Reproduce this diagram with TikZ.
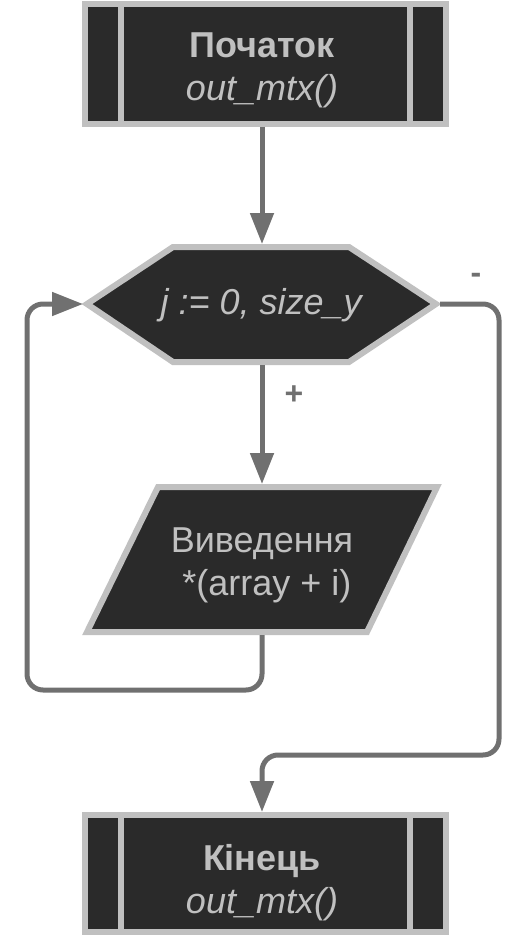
\documentclass[tikz,border=0pt]{standalone}
\usepackage{fontspec}
\setmainfont{Liberation Sans}
\usetikzlibrary{arrows.meta}
\definecolor{fillc}{HTML}{2A2A2A}
\definecolor{bordc}{HTML}{C0C0C0}
\definecolor{linec}{HTML}{707070}
\begin{document}
\begin{tikzpicture}[x=1pt,y=-1pt,
  shapebox/.style={draw=bordc,fill=fillc,line width=6pt},
  txt/.style={text=bordc,font=\fontsize{36}{42}\selectfont,align=center,inner sep=0pt},
  conn/.style={draw=linec,line width=5pt,rounded corners=16pt},
  arr/.style={-{Triangle[length=31pt,width=23pt]}},
  lbl/.style={text=linec,font=\bfseries\fontsize{32}{36}\selectfont,inner sep=0pt}]
\useasboundingbox (0,0) rectangle (531,936);
% start terminal
\path[shapebox] (85,4.5) rectangle (446,124);
\draw[bordc,line width=6pt] (121,4.5) -- (121,124) (410,4.5) -- (410,124);
\node[txt] (start) at (262,70) {\textbf{Початок}\\[1pt]\textit{out\_mtx()}};
\coordinate (startS) at (262,127);
% hexagon
\path[shapebox] (87,304) -- (173,247) -- (349,247) -- (436,304) -- (349,362) -- (173,362) -- cycle;
\node[txt] (loop) at (262,305) {\textit{j := 0, size\_y}};
\coordinate (loopN) at (262,244);
\coordinate (loopS) at (262,365);
\coordinate (loopW) at (83,304);
\coordinate (loopE) at (440,304);
% parallelogram
\path[shapebox] (158,487) -- (437,487) -- (367,632) -- (87,632) -- cycle;
\node[txt] (out) at (262,565) {Виведення\\[1pt]\ *(array + i)};
\coordinate (outN) at (262,484);
\coordinate (outS) at (262,635);
% end terminal
\path[shapebox] (85,815) rectangle (446,932);
\draw[bordc,line width=6pt] (121,815) -- (121,932) (410,815) -- (410,932);
\node[txt] (end) at (262,883) {\textbf{Кінець}\\[1pt]\textit{out\_mtx()}};
\coordinate (endN) at (262,812);
% connectors
\draw[conn,arr] (startS) -- (loopN);
\draw[conn,arr] (loopS) -- (outN);
\draw[conn,arr] (outS) -- (262,690) -- (27,690) -- (27,304) -- (loopW);
\draw[conn,arr] (loopE) -- (499,304) -- (499,755) -- (262,755) -- (endN);
% labels
\node[lbl] (plus) at (294,395) {+};
\node[lbl] (minus) at (476,278) {-};
\end{tikzpicture}
\end{document}
